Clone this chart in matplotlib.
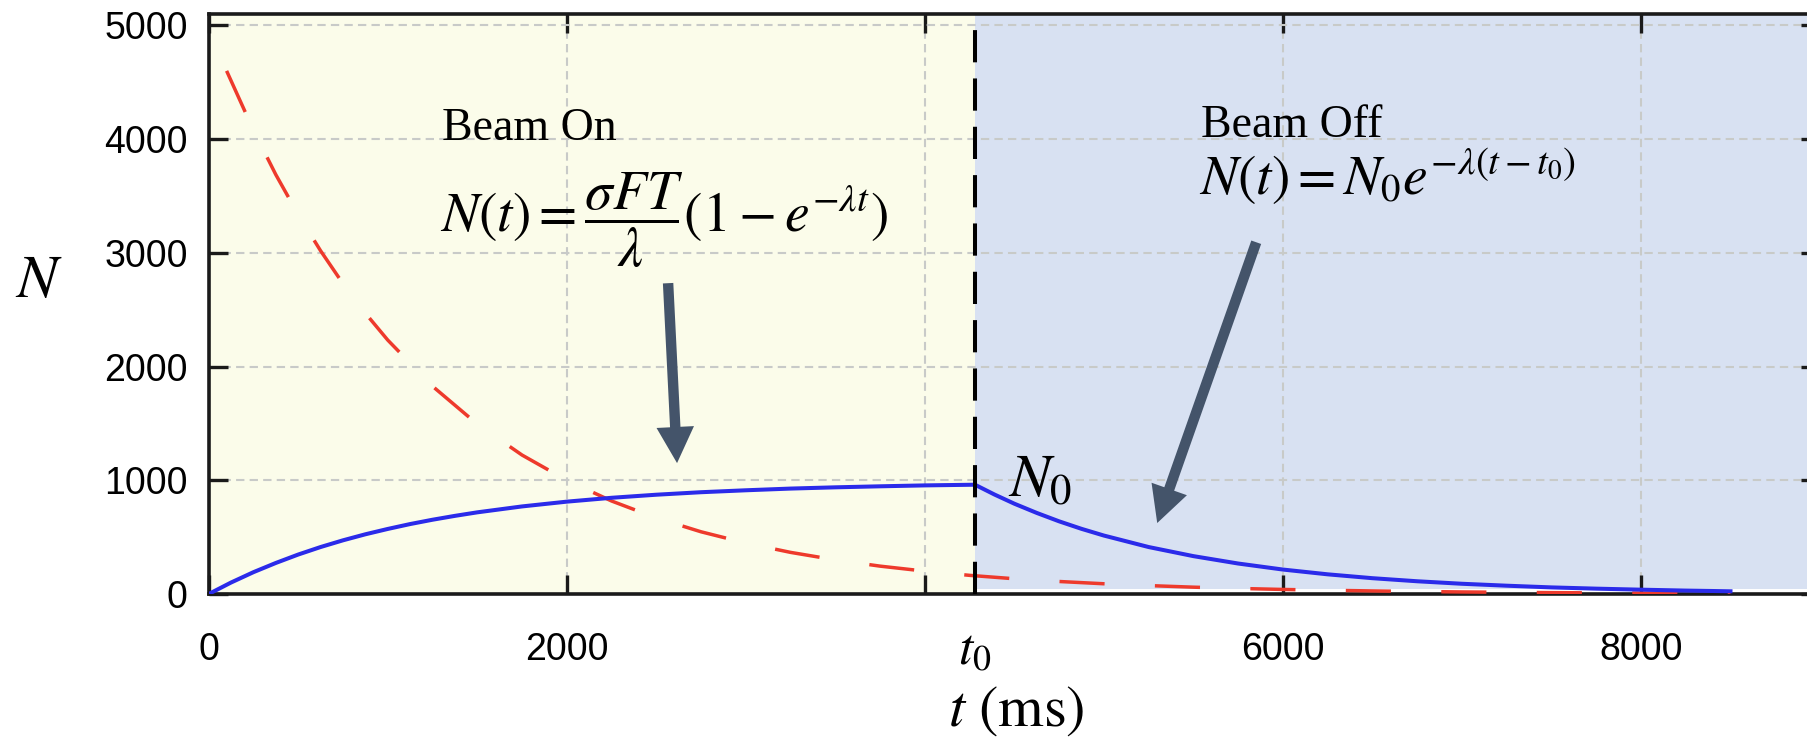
import numpy as np
import matplotlib.pyplot as plt

plt.rcParams['mathtext.fontset'] = 'stix'

# beam on / beam off times (ms)
t0 = 4280
t_max = 9000

# number of nuclei N(t) (blue)
t_on = [0, 125, 250, 375, 500, 625, 750, 875, 1000, 1125, 1250, 1375, 1500,
        1750, 2000, 2250, 2500, 2750, 3000, 3250, 3500, 3750, 4000, 4280]
n_on = [0, 101, 192, 273, 347, 413, 472, 525, 572, 615, 653, 687, 718,
        770, 812, 846, 873, 895, 912, 927, 938, 947, 955, 961]
t_off = [4280, 4390, 4500, 4625, 4750, 4875, 5000, 5250, 5500, 5750, 6000,
         6250, 6500, 6750, 7000, 7250, 7500, 7750, 8000, 8250, 8500]
n_off = [961, 874, 794, 713, 639, 573, 514, 413, 333, 268, 215,
         173, 139, 112, 90, 73, 58, 47, 38, 30, 24]

# red dashed curve
t_red = [100, 250, 375, 500, 625, 750, 875, 1000, 1250, 1500, 1750, 2000,
         2250, 2500, 2750, 3000, 3250, 3500, 3750, 4000, 4250, 4500, 4750,
         5000, 5250, 5500, 5750, 6000, 6250, 6500, 6750, 7000, 7500, 8000, 8500]
n_red = [4600, 4078, 3687, 3336, 3018, 2729, 2469, 2233, 1827, 1494, 1222, 1000,
         818, 669, 547, 448, 366, 300, 245, 201, 164, 134, 110,
         90, 74, 60, 49, 40, 33, 27, 22, 18, 12, 8, 5]

xticks = [0, 2000, 4000, 6000, 8000]
xticklabels = ['0', '2000', '', '6000', '8000']
yticks = [0, 1000, 2000, 3000, 4000, 5000]

fig = plt.figure(figsize=(18.08, 7.41), dpi=100)
ax = fig.add_axes([208.7 / 1808, 1 - 594 / 741, (1820 - 208.7) / 1808, 580 / 741])
ax.set_xlim(0, t_max)
ax.set_ylim(0, 5100)

# shaded regions
ax.axvspan(0, t0, color='#fbfcea', zorder=0, lw=0)
ax.fill_between([t0, t_max], 40, 5100, color='#d8e1f2', zorder=0, lw=0)

ax.grid(True, ls=(0, (4, 2.5)), lw=1.5, color='#c8cac8')

ax.plot(t_red, n_red, color='#ee3a2c', lw=2.5, ls=(0, (13, 14.5)), zorder=3)
ax.plot(t_on + t_off, n_on + n_off, color='#2b2bea', lw=2.9, zorder=4)
ax.axvline(t0, color='black', lw=2.9, ls=(0, (8, 4)), zorder=5)

# axes styling
for side in ['left', 'bottom', 'top']:
    ax.spines[side].set_linewidth(2.6)
    ax.spines[side].set_color('#1a1a1a')
ax.spines['right'].set_visible(False)
ax.set_xticks(xticks)
ax.set_xticklabels(xticklabels)
ax.set_yticks(yticks)
ax.tick_params(direction='in', length=14, width=2.4, color='#1a1a1a',
               top=True, right=True, labelsize=27)
ax.tick_params(axis='x', pad=27)
ax.tick_params(axis='y', pad=15)
for lab in ax.get_xticklabels() + ax.get_yticklabels():
    lab.set_family('Liberation Sans')

ax.text(t0, -0.098, r'$\mathit{t_0}$', transform=ax.get_xaxis_transform(),
        ha='center', va='center', fontsize=37)

fig.text(39 / 1808, 1 - 280 / 741, r'$N$', ha='center', va='center', fontsize=44)
fig.text(1016 / 1808, 1 - 710 / 741, r'$t\ (\mathrm{ms})$', ha='center', va='center',
         fontsize=42)

# annotations
ax.text(1303, 3989, 'Beam On', family='Liberation Serif', fontsize=33, va='baseline')
ax.text(1290, 3286, r'$N(t) = \dfrac{\sigma FT}{\lambda}\left(1 - e^{-\lambda t}\right)$',
        fontsize=40, va='center')
ax.text(5544, 4016, 'Beam Off', family='Liberation Serif', fontsize=33, va='baseline')
ax.text(5530, 3673, r'$N(t) = N_0 e^{-\lambda(t-t_0)}$', fontsize=40, va='center')
ax.text(4644, 1002, r'$N_0$', fontsize=44, ha='center', va='center', zorder=6)

arrow = dict(arrowstyle='simple,head_width=2.7,head_length=2.6,tail_width=0.75',
             color='#44546a', lw=0, shrinkA=0, shrinkB=0)
ax.annotate('', xy=(2616, 1151), xytext=(2566, 2733), arrowprops=arrow, zorder=6)
ax.annotate('', xy=(5298, 624), xytext=(5851, 3093), arrowprops=arrow, zorder=6)

plt.savefig('out.png', dpi=100)
